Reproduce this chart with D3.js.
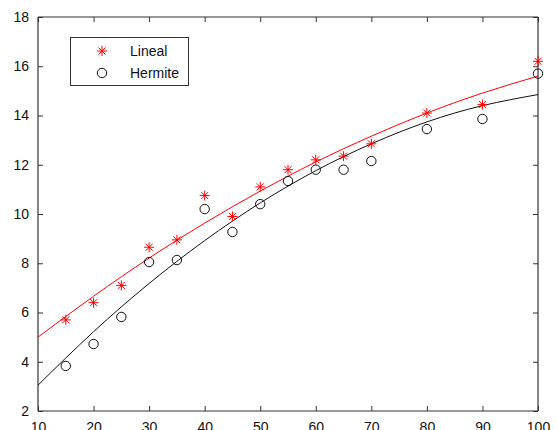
<!DOCTYPE html>
<html>
<head>
<meta charset="utf-8">
<script src="https://cdn.jsdelivr.net/npm/d3@7"></script>
<style>
  body { margin: 0; background: #fff; }
  svg { display: block; font-family: "Liberation Sans", Arial, sans-serif; }
</style>
</head>
<body>
<div id="chart"></div>
<script>
  // x positions of the samples
  let xs = [15, 20, 25, 30, 35, 40, 45, 50, 55, 60, 65, 70, 80, 90, 100]
  // sample values
  let lineal = [5.7, 6.4, 7.1, 8.65, 8.95, 10.75, 9.9, 11.1, 11.8, 12.2, 12.35, 12.85, 14.1, 14.45, 16.2]
  let hermite = [3.83, 4.72, 5.82, 8.05, 8.13, 10.2, 9.27, 10.4, 11.34, 11.8, 11.8, 12.15, 13.45, 13.86, 15.7]
  // fitted curves, read at every 10
  let fitX = [10, 20, 30, 40, 50, 60, 70, 80, 90, 100]
  let fitLineal = [5.0, 6.66, 8.21, 9.63, 10.93, 12.11, 13.16, 14.1, 14.91, 15.6]
  let fitHermite = [3.05, 5.22, 7.18, 8.92, 10.45, 11.76, 12.85, 13.74, 14.4, 14.85]
  // ticks
  let xTicks = [10, 20, 30, 40, 50, 60, 70, 80, 90, 100]
  let yTicks = [2, 4, 6, 8, 10, 12, 14, 16, 18]

  let width = 557, height = 430
  let margin = { top: 17, right: 19, bottom: 19, left: 38 }
  let axisColor = "#333"

  let svg = d3.select("#chart").append("svg")
    .attr("width", width)
    .attr("height", height)

  let x = d3.scaleLinear().domain([10, 100]).range([margin.left, width - margin.right])
  let y = d3.scaleLinear().domain([2, 18]).range([height - margin.bottom, margin.top])

  // axes, ticks pointing in, on all four sides
  let bottomAxis = d3.axisBottom(x).tickValues(xTicks).tickSize(-5).tickPadding(9)
  let topAxis = d3.axisTop(x).tickValues(xTicks).tickSize(-5).tickFormat("")
  let leftAxis = d3.axisLeft(y).tickValues(yTicks).tickSize(-5).tickPadding(9)
  let rightAxis = d3.axisRight(y).tickValues(yTicks).tickSize(-5).tickFormat("")

  let gB = svg.append("g").attr("transform", `translate(0,${height - margin.bottom})`).call(bottomAxis)
  let gT = svg.append("g").attr("transform", `translate(0,${margin.top})`).call(topAxis)
  let gL = svg.append("g").attr("transform", `translate(${margin.left},0)`).call(leftAxis)
  let gR = svg.append("g").attr("transform", `translate(${width - margin.right},0)`).call(rightAxis)

  ;[gB, gT, gL, gR].forEach(g => {
    g.select(".domain").attr("stroke", axisColor).attr("stroke-width", 1.2).attr("d", function() {
      return d3.select(this).attr("d").replace(/V-?\d+(\.\d+)?/g, m => m).replace(/^M([\d.]+),-?5/, "M$1,0")
    })
    g.selectAll(".tick line").attr("stroke", axisColor)
    g.selectAll(".tick text").attr("fill", "#111").style("font-size", "14px")
  })
  // redraw box lines so they have no end caps
  gB.select(".domain").attr("d", `M${x.range()[0]},0H${x.range()[1]}`)
  gT.select(".domain").attr("d", `M${x.range()[0]},0H${x.range()[1]}`)
  gL.select(".domain").attr("d", `M0,${y.range()[0]}V${y.range()[1]}`)
  gR.select(".domain").attr("d", `M0,${y.range()[0]}V${y.range()[1]}`)
  gB.selectAll(".tick text").attr("dy", "0.85em")

  // fitted curves
  let line = d3.line().x(d => x(d[0])).y(d => y(d[1])).curve(d3.curveNatural)
  svg.append("path")
    .datum(fitX.map((v, i) => [v, fitLineal[i]]))
    .attr("d", line)
    .attr("fill", "none")
    .attr("stroke", "#ff0000")
    .attr("stroke-width", 1)
  svg.append("path")
    .datum(fitX.map((v, i) => [v, fitHermite[i]]))
    .attr("d", line)
    .attr("fill", "none")
    .attr("stroke", "#111")
    .attr("stroke-width", 1)

  // star marker like matlab '*'
  let starPath = (cx, cy, s) => {
    let d = s * 0.7
    return `M${cx - s},${cy}H${cx + s}M${cx},${cy - s}V${cy + s}` +
      `M${cx - d},${cy - d}L${cx + d},${cy + d}M${cx - d},${cy + d}L${cx + d},${cy - d}`
  }

  svg.append("g").selectAll("path")
    .data(xs.map((v, i) => [v, lineal[i]]))
    .join("path")
    .attr("d", d => starPath(x(d[0]), y(d[1]), 5))
    .attr("stroke", "#ff0000")
    .attr("stroke-width", 1)
    .attr("fill", "none")

  svg.append("g").selectAll("circle")
    .data(xs.map((v, i) => [v, hermite[i]]))
    .join("circle")
    .attr("cx", d => x(d[0]))
    .attr("cy", d => y(d[1]))
    .attr("r", 4.7)
    .attr("stroke", "#111")
    .attr("stroke-width", 1)
    .attr("fill", "none")

  // legend
  let legend = svg.append("g")
  legend.append("rect")
    .attr("x", 70.5).attr("y", 37.5)
    .attr("width", 118).attr("height", 48)
    .attr("fill", "#fff")
    .attr("stroke", axisColor)
    .attr("stroke-width", 1)
  legend.append("path")
    .attr("d", starPath(102, 51, 5))
    .attr("stroke", "#ff0000")
    .attr("fill", "none")
  legend.append("circle")
    .attr("cx", 102).attr("cy", 73).attr("r", 4.7)
    .attr("stroke", "#111").attr("fill", "none")
  legend.append("text").attr("x", 130).attr("y", 56).text("Lineal")
    .style("font-size", "14px").attr("fill", "#111")
  legend.append("text").attr("x", 130).attr("y", 78).text("Hermite")
    .style("font-size", "14px").attr("fill", "#111")
</script>
</body>
</html>
